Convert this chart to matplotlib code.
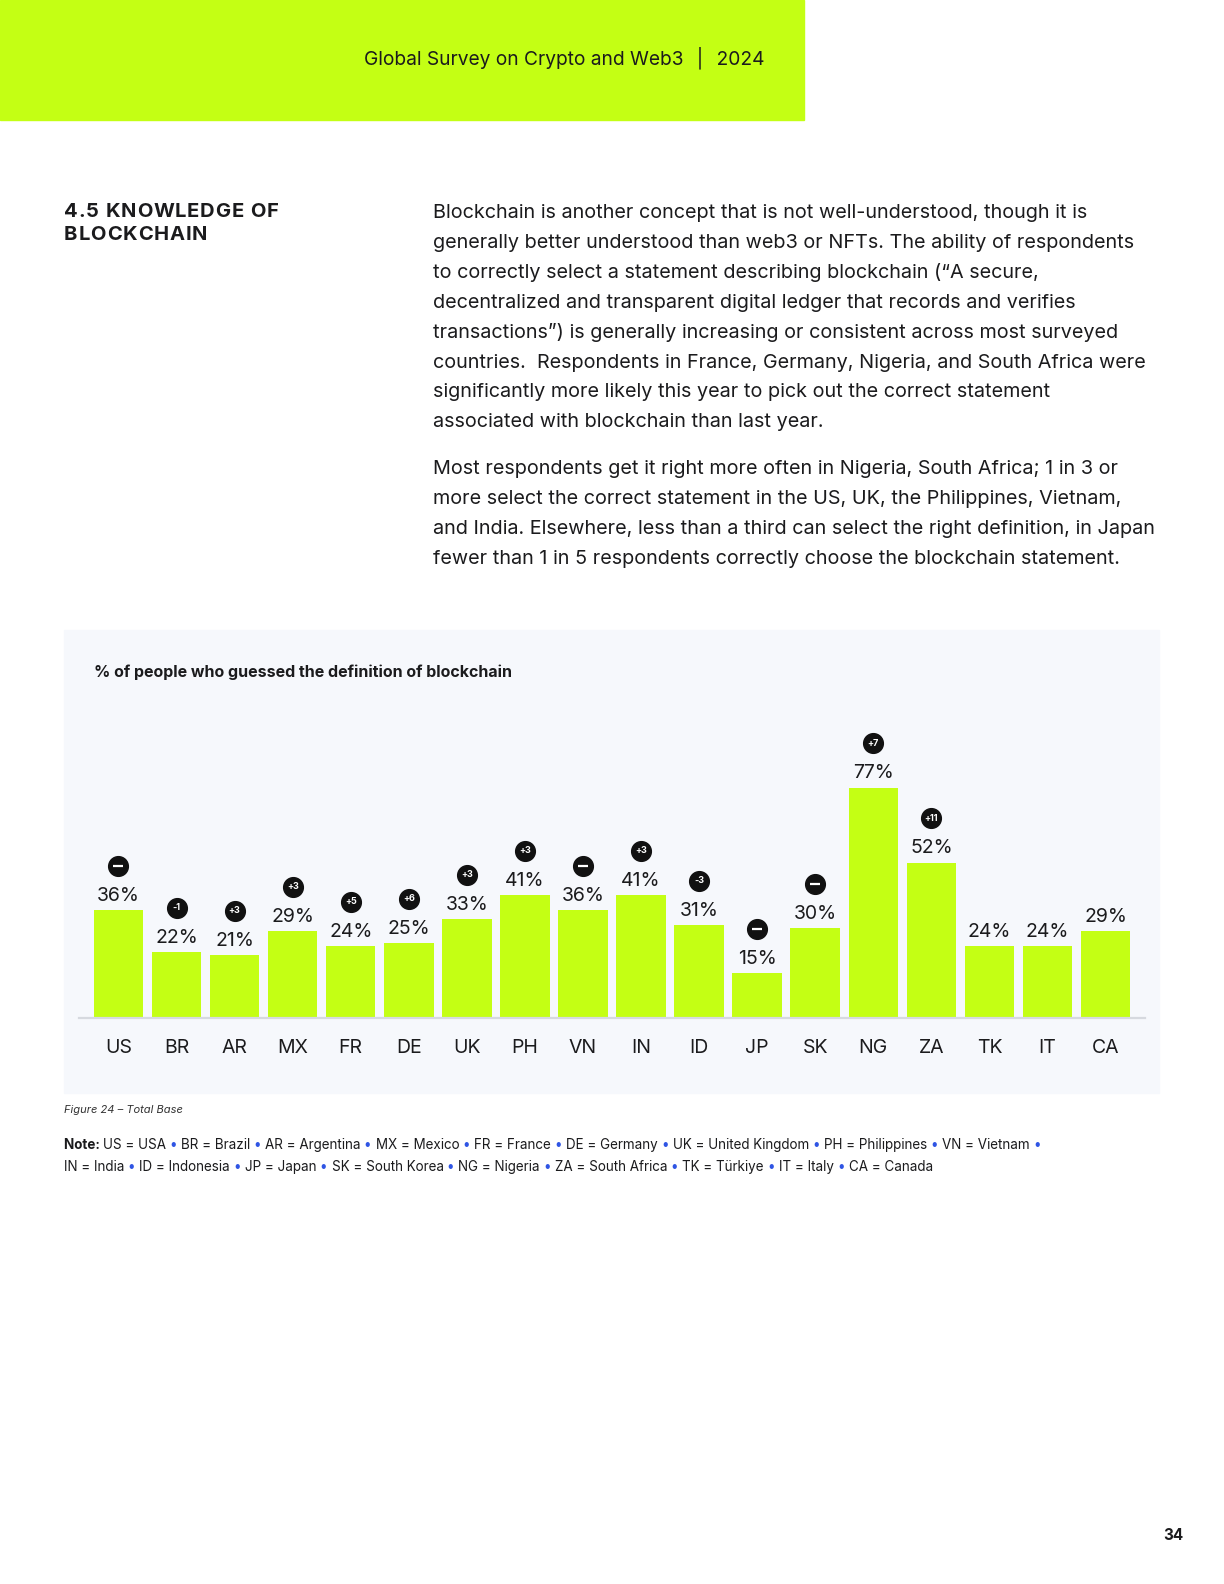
import matplotlib

matplotlib.use("Agg")
import matplotlib.pyplot as plt
from matplotlib.patches import Rectangle
from matplotlib.transforms import offset_copy

plt.rcParams["font.family"] = ["Inter", "DejaVu Sans"]

# data
countries = ["US", "BR", "AR", "MX", "FR", "DE", "UK", "PH", "VN",
             "IN", "ID", "JP", "SK", "NG", "ZA", "TK", "IT", "CA"]
share = [36, 22, 21, 29, 24, 25, 33, 41, 36, 41, 31, 15, 30, 77, 52, 24, 24, 29]
# change vs last year: 0 = no change (dash), None = no badge
change = [0, -1, 3, 3, 5, 6, 3, 3, 0, 3, -3, 0, 0, 7, 11, None, None, None]
country_names = ["USA", "Brazil", "Argentina", "Mexico", "France", "Germany",
                 "United Kingdom", "Philippines", "Vietnam", "India", "Indonesia",
                 "Japan", "South Korea", "Nigeria", "South Africa", "Türkiye",
                 "Italy", "Canada"]

header = "Global Survey on Crypto and Web3  │  2024"
section = ["4.5 KNOWLEDGE OF", "BLOCKCHAIN"]
para1 = [
    "Blockchain is another concept that is not well-understood, though it is",
    "generally better understood than web3 or NFTs. The ability of respondents",
    "to correctly select a statement describing blockchain (“A secure,",
    "decentralized and transparent digital ledger that records and verifies",
    "transactions”) is generally increasing or consistent across most surveyed",
    "countries.  Respondents in France, Germany, Nigeria, and South Africa were",
    "significantly more likely this year to pick out the correct statement",
    "associated with blockchain than last year.",
]
para2 = [
    "Most respondents get it right more often in Nigeria, South Africa; 1 in 3 or",
    "more select the correct statement in the US, UK, the Philippines, Vietnam,",
    "and India. Elsewhere, less than a third can select the right definition, in Japan",
    "fewer than 1 in 5 respondents correctly choose the blockchain statement.",
]
chart_title = "% of people who guessed the definition of blockchain"

LIME = "#c4ff14"
INK = "#1b1b1d"
PANEL = "#f6f8fc"
BLUE = "#2f55e4"

W, H = 1224, 1584
fig = plt.figure(figsize=(W / 100, H / 100), dpi=100)
renderer = fig.canvas.get_renderer()


def fx(x):
    return x / W


def fy(y):
    return 1 - y / H


def write_run(pieces, x0, y0, size, tracking=0.0):
    # lay pieces of text one after another, measuring each one
    xp = x0
    for txt, color, weight in pieces:
        t = fig.text(fx(xp), fy(y0), txt, ha="left", va="center", fontsize=size,
                     color=color, fontweight=weight)
        xp += t.get_window_extent(renderer).width + tracking


# header band
fig.patches.append(Rectangle((0, fy(120)), fx(804), 120 / H, transform=fig.transFigure,
                             color=LIME, zorder=-2))
fig.text(fx(764), fy(58), header, ha="right", va="center", fontsize=13.8, color=INK)

# section title (letter-spaced) and body text
for k, line in enumerate(section):
    write_run([(ch, INK, "bold") for ch in line], 64, 212 + k * 23.5, 14.5,
              tracking=0.85)
for i, line in enumerate(para1):
    fig.text(fx(433), fy(213 + i * 29.9), line, ha="left", va="center",
             fontsize=14.25, color=INK)
for i, line in enumerate(para2):
    fig.text(fx(433), fy(469 + i * 29.9), line, ha="left", va="center",
             fontsize=14.25, color=INK)

# chart panel
fig.patches.append(Rectangle((fx(64), fy(1093)), (1159 - 64) / W, (1093 - 630) / H,
                             transform=fig.transFigure, color=PANEL, zorder=-2))
fig.text(fx(94), fy(672), chart_title, ha="left", va="center", fontsize=11.5,
         fontweight="bold", color=INK)

ax = fig.add_axes([fx(79), fy(1018), 1066 / W, (1018 - 700) / H])
ax.set_facecolor("none")
x = list(range(len(countries)))
ax.bar(x, share, width=0.853, color=LIME, zorder=2)
ax.set_xlim(-0.68, len(countries) - 1 + 0.68)
ax.set_ylim(0, 318 / 2.99)
for s in ["top", "right", "left"]:
    ax.spines[s].set_visible(False)
ax.spines["bottom"].set_color("#d6d9df")
ax.spines["bottom"].set_linewidth(1.6)
ax.set_yticks([])
ax.set_xticks(x)
ax.set_xticklabels(countries, fontsize=14, color=INK)
ax.tick_params(axis="x", length=0, pad=15)

badge_tr = offset_copy(ax.transData, fig=fig, x=0, y=32, units="points")
for i, (v, c) in enumerate(zip(share, change)):
    ax.annotate(f"{v}%", (i, v), xytext=(0, 4), textcoords="offset points",
                ha="center", va="bottom", fontsize=14, color=INK)
    if c is None:
        continue
    ax.plot(i, v, "o", ms=14.2, color="#111111", transform=badge_tr,
            clip_on=False, zorder=3)
    if c == 0:
        ax.plot(i, v, "_", ms=6.5, mew=1.6, color="white", transform=badge_tr,
                clip_on=False, zorder=4)
    else:
        ax.text(i, v, f"{c:+d}", transform=badge_tr, ha="center", va="center",
                fontsize=6.5, fontweight="bold", color="white", zorder=4)

# caption and note
fig.text(fx(64), fy(1110), "Figure 24 – Total Base", ha="left", va="center",
         fontsize=8, style="italic", color="#333333")

entries = [f"{c} = {n}" for c, n in zip(countries, country_names)]
line1 = [("Note: ", INK, "bold")]
for e in entries[:9]:
    line1 += [(e + " ", INK, "normal"), ("• ", BLUE, "normal")]
line2 = []
for j, e in enumerate(entries[9:]):
    line2.append((e + " ", INK, "normal"))
    if j < len(entries[9:]) - 1:
        line2.append(("• ", BLUE, "normal"))
write_run(line1, 64, 1145, 9.7)
write_run(line2, 64, 1167, 9.7)

fig.text(fx(1184), fy(1536), "34", ha="right", va="center", fontsize=11,
         fontweight="bold", color=INK)

fig.savefig("out.png", dpi=100)
